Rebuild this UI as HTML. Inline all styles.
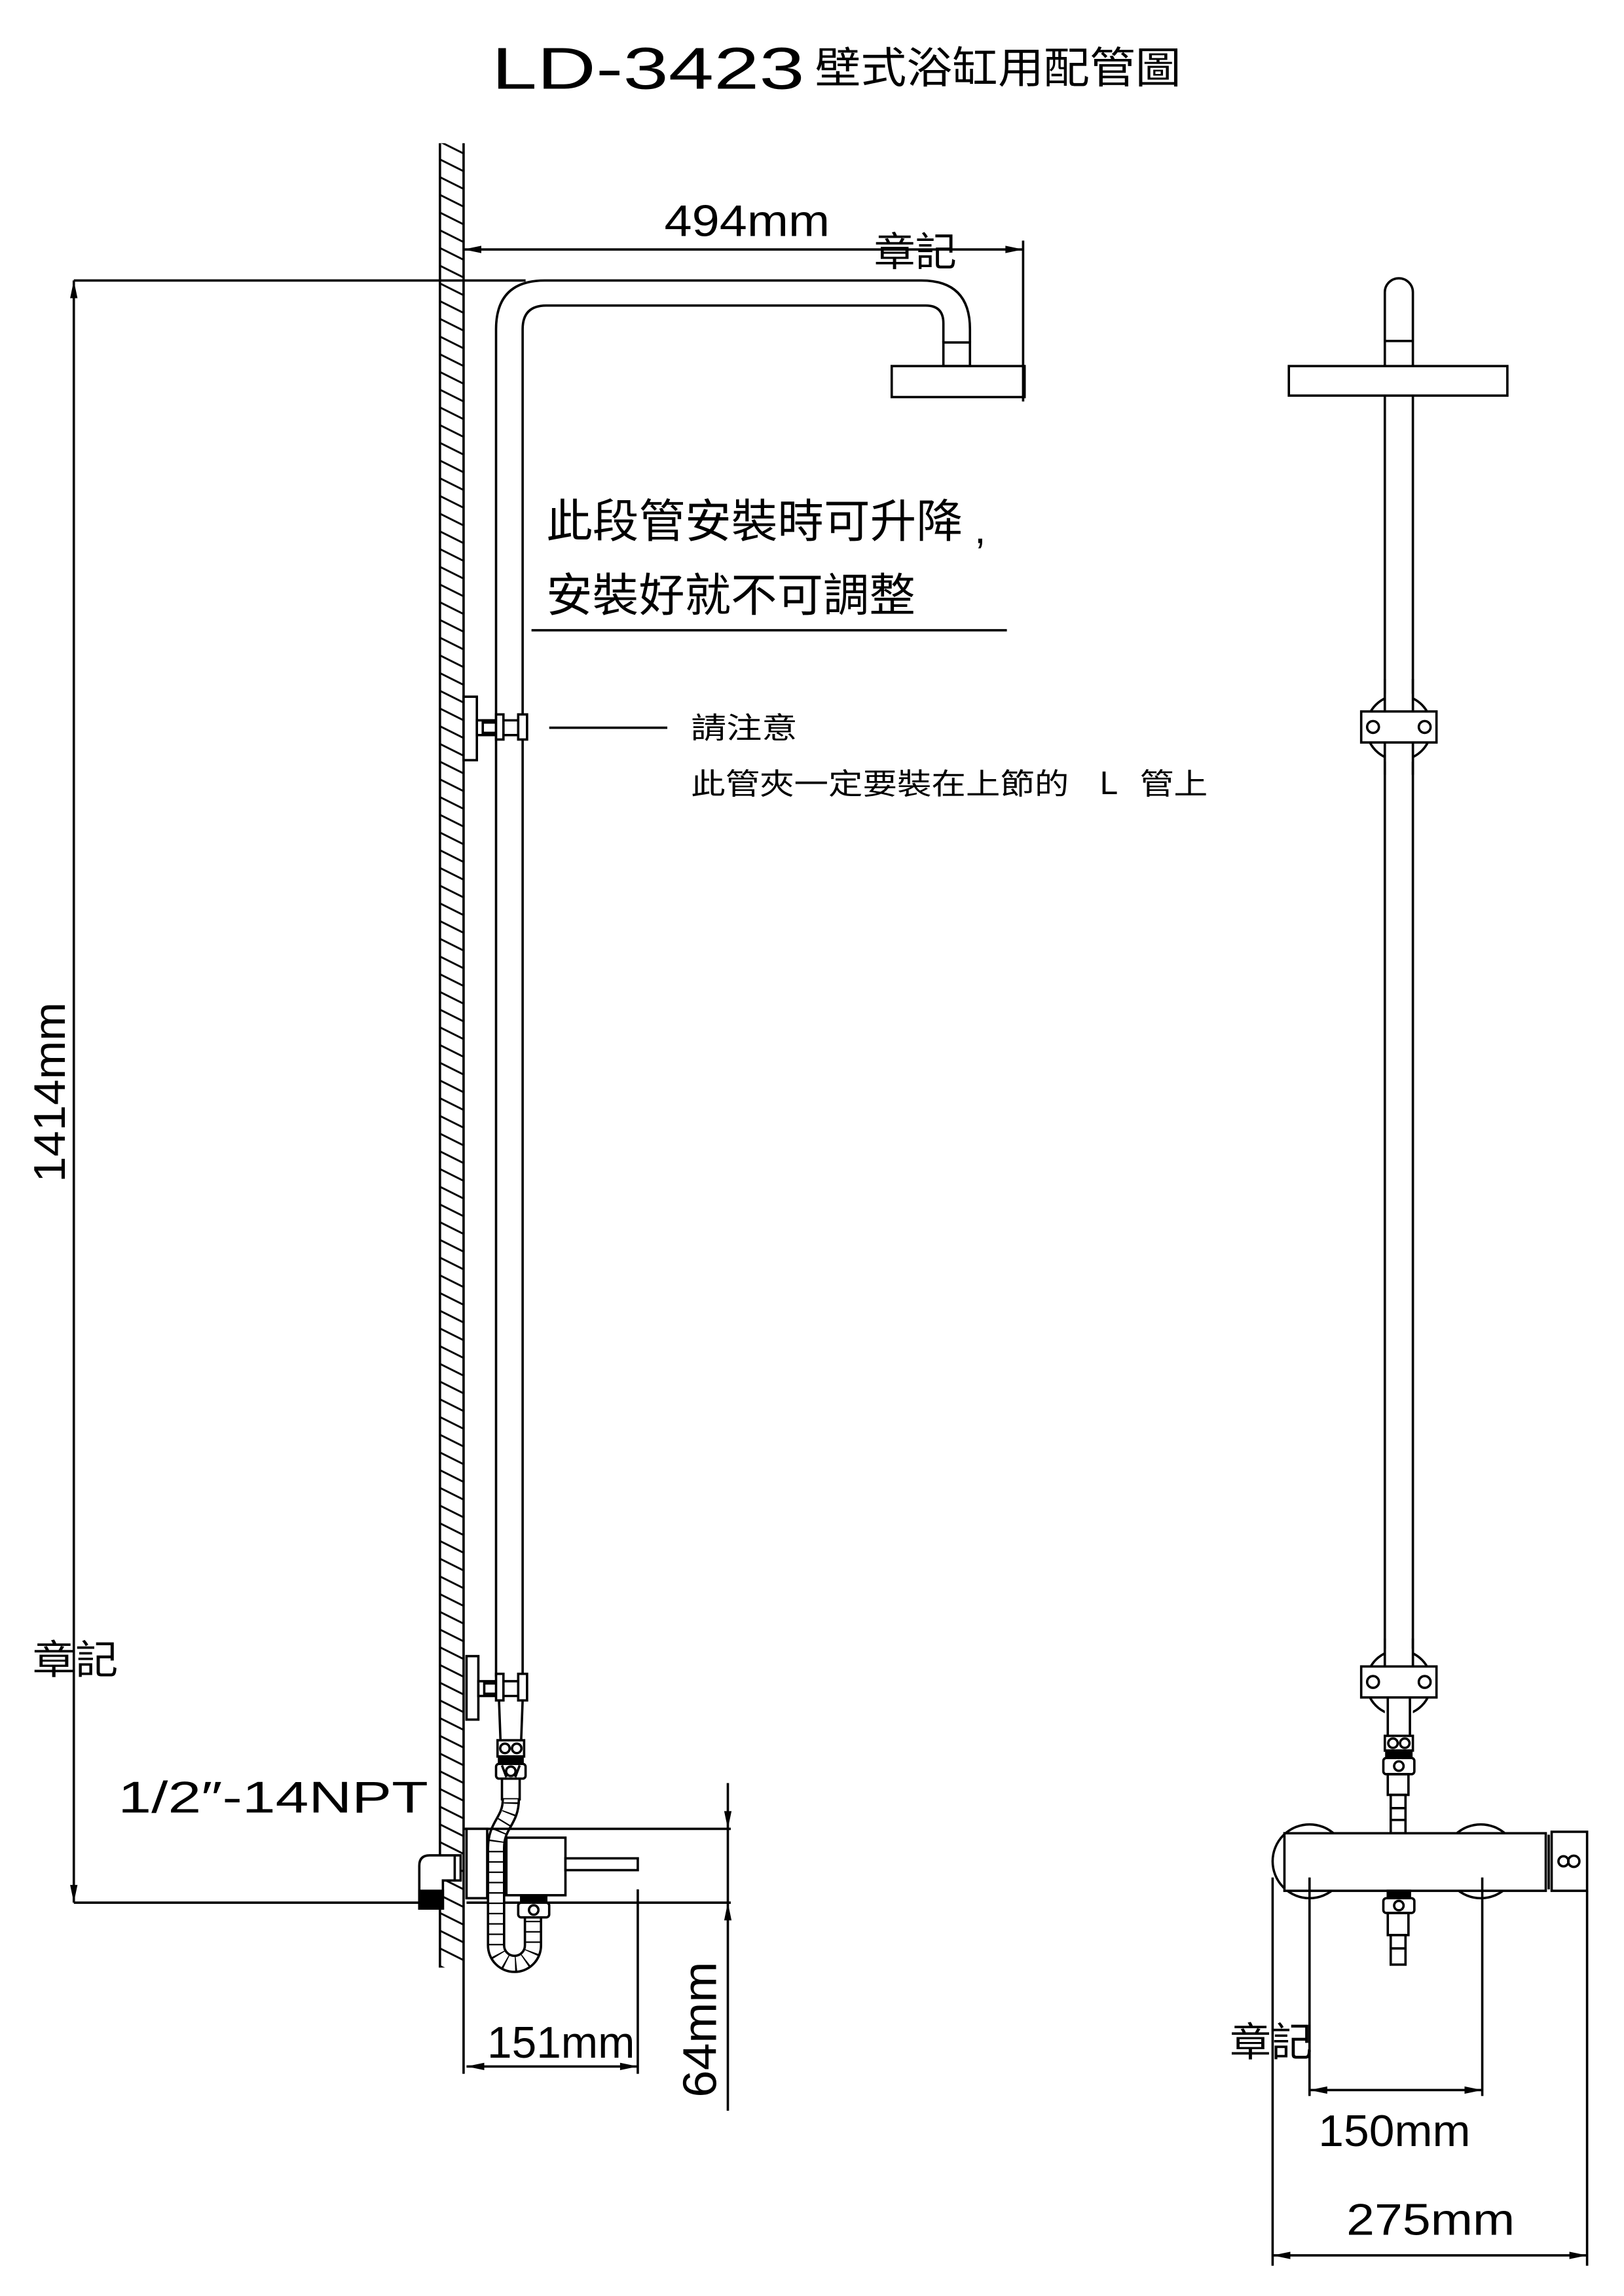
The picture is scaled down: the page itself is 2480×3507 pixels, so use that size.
<!DOCTYPE html>
<html><head><meta charset="utf-8"><style>
html,body{margin:0;padding:0;background:#fff;}
svg{display:block;}
text{font-family:"Liberation Sans","Noto Sans CJK TC",sans-serif;fill:#000;}
.cj{font-family:"Liberation Sans","Noto Sans CJK TC",sans-serif;}
</style></head><body>
<svg width="2480" height="3507" viewBox="0 0 1100 1555.5" xmlns="http://www.w3.org/2000/svg">
<defs>
<pattern id="h" patternUnits="userSpaceOnUse" x="298" y="0" width="16" height="12">
<line x1="0" y1="0" x2="16" y2="8" stroke="#000" stroke-width="1.3"/>
<line x1="0" y1="12" x2="16" y2="20" stroke="#000" stroke-width="1.3"/>
<line x1="0" y1="-12" x2="16" y2="-4" stroke="#000" stroke-width="1.3"/>
</pattern>
</defs>
<rect width="1100" height="1556" fill="#fff"/>

<!-- title -->
<text x="333" y="60" font-size="40" font-weight="300" textLength="212" lengthAdjust="spacingAndGlyphs" style="font-weight:100">LD-3423</text>
<text x="552" y="56" font-size="29" class="cj" textLength="248" lengthAdjust="spacingAndGlyphs">壁式浴缸用配管圖</text>

<g stroke="#000" fill="none" stroke-width="1.6">
<!-- wall -->
<rect x="298" y="97" width="16" height="1236" fill="url(#h)" stroke="none"/>
<line x1="298" y1="97" x2="298" y2="1333"/>
<line x1="314" y1="97" x2="314" y2="1405"/>

<!-- 494 dim -->
<line x1="314" y1="169" x2="693" y2="169"/>
<line x1="693" y1="163" x2="693" y2="272"/>
<!-- top extension for 1414 -->
<line x1="50" y1="190" x2="356" y2="190"/>
<line x1="50" y1="190" x2="50" y2="1289"/>
<line x1="50" y1="1289" x2="284" y2="1289"/>
<line x1="316" y1="1289" x2="495" y2="1289"/>

<!-- L pipe -->
<path d="M336 1136 L336 223 Q336 190 369 190 L624 190 Q657 190 657 223 L657 232"/>
<path d="M354 1136 L354 223 Q354 207 370 207 L627 207 Q639 207 639 219 L639 232"/>
<rect x="639" y="232" width="18" height="16"/>
<rect x="604" y="248" width="90" height="21"/>

<!-- underline -->
<line x1="360" y1="427" x2="682" y2="427"/>

<!-- upper clamp left -->
<rect x="314" y="472" width="9" height="43" fill="#fff"/>
<rect x="323" y="488" width="14" height="10" fill="#fff"/>
<rect x="327" y="489.5" width="9" height="7"/>
<rect x="336" y="484" width="5" height="17" fill="#fff"/>
<rect x="351" y="484" width="6" height="17" fill="#fff"/>
<line x1="341" y1="488" x2="351" y2="488"/>
<line x1="341" y1="498" x2="351" y2="498"/>
<line x1="372" y1="493" x2="452" y2="493"/>

<!-- lower clamp left -->
<rect x="316" y="1122" width="8" height="43" fill="#fff"/>
<rect x="324" y="1139" width="14" height="10" fill="#fff"/>
<rect x="328" y="1140.5" width="9" height="7"/>
<rect x="336" y="1134" width="5" height="18" fill="#fff"/>
<rect x="351" y="1134" width="6" height="18" fill="#fff"/>
<line x1="341" y1="1139" x2="351" y2="1139"/>
<line x1="341" y1="1149" x2="351" y2="1149"/>
<!-- connectors below -->
<path d="M338 1152 L339 1179 M354 1152 L353 1179"/>
<rect x="337" y="1179" width="18" height="11"/>
<circle cx="342" cy="1184.5" r="3.2"/><circle cx="350" cy="1184.5" r="3.2"/>
<rect x="338" y="1190" width="16" height="5" fill="#000"/>
<rect x="336" y="1195" width="20" height="10" rx="2"/>
<circle cx="346" cy="1200" r="3.2"/>
<line x1="340" y1="1196" x2="343" y2="1204"/><line x1="352" y1="1196" x2="349" y2="1204"/>
<rect x="340" y="1205" width="12" height="14"/>

<!-- hose -->
<path d="M346 1219 C346 1234 336 1236 336 1252 L336 1318 A12.5 12.5 0 0 0 361 1318 L361 1299" stroke-width="12.5"/>
<path d="M346 1219 C346 1234 336 1236 336 1252 L336 1318 A12.5 12.5 0 0 0 361 1318 L361 1299" stroke="#fff" stroke-width="9.3"/>
<path d="M346 1221 C346 1234 336 1236 336 1252 L336 1318 A12.5 12.5 0 0 0 361 1318 L361 1299" stroke-width="9.5" stroke-dasharray="1 6"/>
<path d="M346 1221 C346 1234 336 1236 336 1252 L336 1318 A12.5 12.5 0 0 0 361 1318 L361 1299" stroke="#fff" stroke-width="7" stroke-dasharray="0 0" opacity="0"/>
<rect x="351" y="1289" width="21" height="10" rx="2" fill="#fff"/>
<circle cx="361.5" cy="1294" r="3.2"/>
<rect x="353" y="1284" width="17" height="5" fill="#000"/>

<!-- valve -->
<line x1="314" y1="1239" x2="495" y2="1239"/>
<rect x="316" y="1239" width="14" height="47" fill="#fff"/>
<rect x="343" y="1245" width="40" height="39" fill="#fff"/>
<rect x="383" y="1259" width="49" height="8" fill="#fff"/>
<line x1="432" y1="1280" x2="432" y2="1405"/>
<!-- elbow -->
<path d="M284 1293 L284 1264 Q284 1257 291 1257 L312 1257 L312 1274 L300 1274 L300 1293 Z" fill="#fff"/>
<rect x="284" y="1281" width="16" height="12" fill="#000"/>
<line x1="308" y1="1257" x2="308" y2="1274"/>

<!-- 64 dim -->
<line x1="493" y1="1208" x2="493" y2="1430"/>
<!-- 151 dim -->
<line x1="316" y1="1400" x2="432" y2="1400"/>

<!-- RIGHT VIEW -->
<path d="M938 1130 L938 198 A9.5 9.5 0 0 1 957 198 L957 1130"/>
<line x1="938" y1="231" x2="957" y2="231"/>
<rect x="873" y="248" width="148" height="20" fill="#fff"/>
<!-- upper clamp right -->
<circle cx="947.5" cy="493" r="22"/>
<rect x="938" y="470" width="19" height="46" fill="#fff" stroke="none"/>
<line x1="938" y1="460" x2="938" y2="525"/><line x1="957" y1="460" x2="957" y2="525"/>
<rect x="922" y="482" width="51" height="21" fill="#fff"/>
<circle cx="930" cy="492.5" r="4"/><circle cx="965" cy="492.5" r="4"/>
<!-- lower clamp right -->
<circle cx="947.5" cy="1140" r="22"/>
<rect x="938" y="1117" width="19" height="46" fill="#fff" stroke="none"/>
<line x1="938" y1="1110" x2="938" y2="1130"/><line x1="957" y1="1110" x2="957" y2="1130"/>
<rect x="922" y="1129" width="51" height="21" fill="#fff"/>
<circle cx="930" cy="1139.5" r="4"/><circle cx="965" cy="1139.5" r="4"/>
<path d="M940 1150 L940 1176 M955 1150 L955 1176"/>
<rect x="938" y="1176" width="19" height="10"/>
<circle cx="943.5" cy="1181" r="3.2"/><circle cx="951.5" cy="1181" r="3.2"/>
<rect x="939" y="1186" width="17" height="5" fill="#000"/>
<rect x="937" y="1191" width="21" height="11" rx="2"/>
<circle cx="947.5" cy="1196.5" r="3.2"/>
<rect x="940" y="1202" width="14" height="14"/>
<rect x="942" y="1216" width="10" height="26"/>
<line x1="942" y1="1225" x2="952" y2="1225"/><line x1="942" y1="1233" x2="952" y2="1233"/>
<!-- knobs and body -->
<circle cx="887" cy="1261" r="25"/>
<circle cx="1003" cy="1261" r="25"/>
<rect x="870" y="1242" width="177" height="39" fill="#fff"/>
<line x1="1049" y1="1243" x2="1049" y2="1280"/>
<rect x="1051" y="1241" width="24" height="40" fill="#fff"/>
<circle cx="1059" cy="1261" r="3.4"/><circle cx="1066" cy="1261" r="3.8"/>
<rect x="940" y="1281" width="15" height="5" fill="#000"/>
<rect x="937" y="1286" width="21" height="10" rx="2" fill="#fff"/>
<circle cx="947.5" cy="1291" r="3.2"/>
<rect x="940" y="1296" width="14" height="15"/>
<rect x="942" y="1311" width="10" height="20"/>
<line x1="942" y1="1320" x2="952" y2="1320"/>
<!-- right dims -->
<line x1="862" y1="1272" x2="862" y2="1535"/>
<line x1="887" y1="1272" x2="887" y2="1420"/>
<line x1="1004" y1="1272" x2="1004" y2="1420"/>
<line x1="1075" y1="1281" x2="1075" y2="1535"/>
<line x1="887" y1="1416" x2="1004" y2="1416"/>
<line x1="862" y1="1528" x2="1075" y2="1528"/>
</g>

<!-- arrowheads -->
<g fill="#000">
<path d="M314 169 L326 166.5 L326 171.5 Z"/>
<path d="M693 169 L681 166.5 L681 171.5 Z"/>
<path d="M50 190 L47.5 202 L52.5 202 Z"/>
<path d="M50 1289 L47.5 1277 L52.5 1277 Z"/>
<path d="M493 1239 L490.5 1227 L495.5 1227 Z"/>
<path d="M493 1289 L490.5 1301 L495.5 1301 Z"/>
<path d="M316 1400 L328 1397.5 L328 1402.5 Z"/>
<path d="M432 1400 L420 1397.5 L420 1402.5 Z"/>
<path d="M887 1416 L899 1413.5 L899 1418.5 Z"/>
<path d="M1004 1416 L992 1413.5 L992 1418.5 Z"/>
<path d="M862 1528 L874 1525.5 L874 1530.5 Z"/>
<path d="M1075 1528 L1063 1525.5 L1063 1530.5 Z"/>
</g>

<!-- texts -->
<text x="450" y="160" font-size="30" textLength="112" lengthAdjust="spacingAndGlyphs">494mm</text>
<text x="592" y="180" font-size="27" textLength="56" lengthAdjust="spacingAndGlyphs">章記</text>
<text x="370" y="364" font-size="31" textLength="282" lengthAdjust="spacingAndGlyphs">此段管安裝時可升降</text>
<text x="660" y="368" font-size="28">,</text>
<text x="370" y="414" font-size="31" textLength="250" lengthAdjust="spacingAndGlyphs">安裝好就不可調整</text>
<text x="468" y="500" font-size="20" textLength="72" lengthAdjust="spacingAndGlyphs">請注意</text>
<text x="468" y="538" font-size="20" textLength="256" lengthAdjust="spacingAndGlyphs">此管夾一定要裝在上節的</text>
<text x="745" y="538" font-size="22">L</text>
<text x="772" y="538" font-size="20" textLength="46" lengthAdjust="spacingAndGlyphs">管上</text>
<text transform="translate(44 740) rotate(-90)" text-anchor="middle" font-size="30" textLength="122" lengthAdjust="spacingAndGlyphs">1414mm</text>
<text x="22" y="1134" font-size="27" textLength="58" lengthAdjust="spacingAndGlyphs">章記</text>
<text x="80" y="1228" font-size="30" textLength="210" lengthAdjust="spacingAndGlyphs">1/2″-14NPT</text>
<text x="330" y="1394" font-size="30" textLength="100" lengthAdjust="spacingAndGlyphs">151mm</text>
<text transform="translate(485 1375) rotate(-90)" text-anchor="middle" font-size="32" textLength="92" lengthAdjust="spacingAndGlyphs">64mm</text>
<text x="833" y="1393" font-size="27" textLength="56" lengthAdjust="spacingAndGlyphs">章記</text>
<text x="893" y="1454" font-size="30" textLength="103" lengthAdjust="spacingAndGlyphs">150mm</text>
<text x="912" y="1514" font-size="30" textLength="114" lengthAdjust="spacingAndGlyphs">275mm</text>
</svg>
</body></html>
